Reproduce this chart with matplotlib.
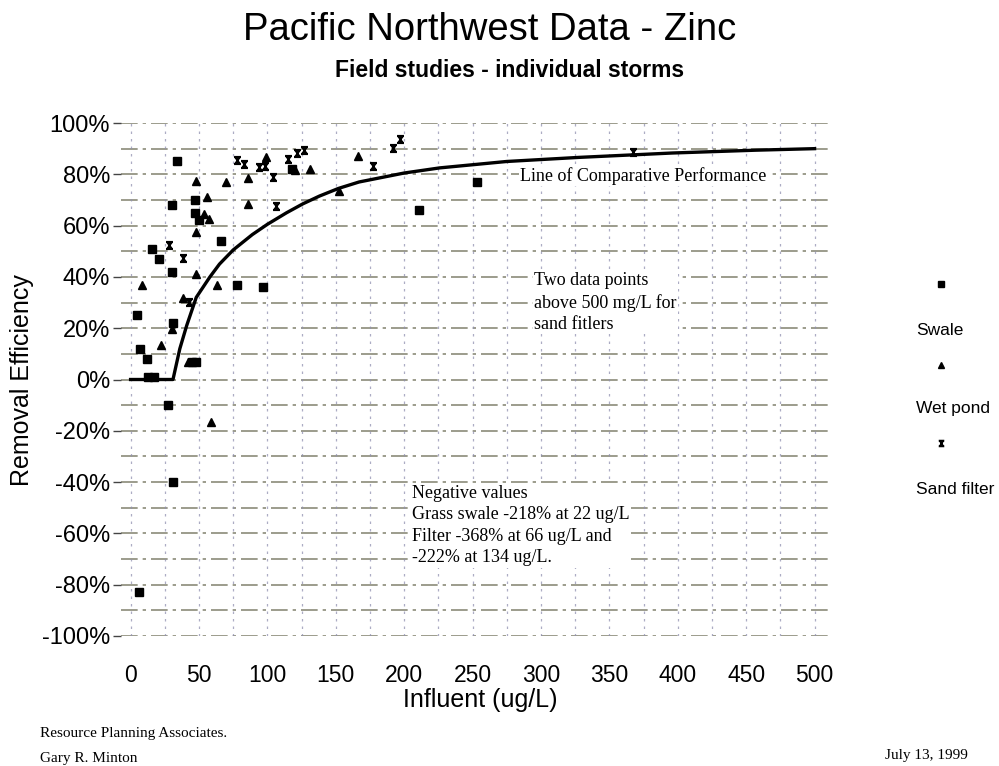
"""
    Pacific Northwest Data - Zinc
"""
import matplotlib
matplotlib.use('Agg')
import matplotlib.pyplot as plt
from matplotlib.path import Path
from matplotlib.lines import Line2D

# Swale (cuadrados)
swale_x = [34, 30, 47, 47, 50, 66, 16, 21, 30, 78, 97, 118, 5, 31, 7, 12, 13, 17, 45, 48, 27, 31, 6, 211, 253]
swale_y = [85, 68, 70, 65, 62, 54, 51, 47, 42, 37, 36, 82, 25, 22, 12, 8, 1, 1, 7, 7, -10, -40, -83, 66, 77]

# Wet pond (triangulos)
pond_x = [48, 56, 54, 57, 48, 48, 63, 8, 38, 70, 86, 86, 99, 131, 166, 152, 120, 30, 22, 42, 59]
pond_y = [77.5, 71, 64.5, 62.5, 57.6, 41, 36.8, 37, 31.7, 77, 78.7, 68.4, 86.6, 82, 87.3, 73.5, 81.5, 19.6, 13.5, 7, -16.7]

# Sand filter
sand_x = [78, 83, 94, 98, 104, 106, 115, 122, 127, 28, 38, 43, 177, 192, 197, 367]
sand_y = [85.6, 84, 82.7, 83.2, 79, 67.8, 86, 88.4, 89.5, 52.4, 47.2, 30.3, 83.2, 90.4, 93.6, 88.8]

# Line of Comparative Performance
line_x = [0, 31, 36, 41, 48, 58, 65, 75, 89, 100, 114, 126, 138, 152, 167, 200, 226, 275, 328, 396, 457, 500]
line_y = [0, 0, 12, 21, 32, 40, 45, 50.5, 56.5, 60.5, 65, 68.5, 71.5, 74.5, 77, 80.5, 82.5, 85, 86.6, 88.3, 89.4, 90]

y_ticks = [-100, -80, -60, -40, -20, 0, 20, 40, 60, 80, 100]
x_ticks = [0, 50, 100, 150, 200, 250, 300, 350, 400, 450, 500]

# marcador tipo reloj de arena para sand filter
hourglass = Path([(-1, 1), (1, 1), (-0.6, 1), (0.6, -1), (0.6, 1), (-0.6, -1), (-1, -1), (1, -1)],
                 [Path.MOVETO, Path.LINETO, Path.MOVETO, Path.LINETO,
                  Path.MOVETO, Path.LINETO, Path.MOVETO, Path.LINETO])

sans = ['Liberation Sans', 'DejaVu Sans']
serif = ['Liberation Serif', 'DejaVu Serif']
W, H = 999, 766

fig = plt.figure(figsize=(9.99, 7.66), dpi=100)
ax = fig.add_axes([121 / W, 1 - 636 / H, (831 - 121) / W, (636 - 123) / H])
ax.set_xlim(-7, 512)
ax.set_ylim(-100, 100)

# cuadricula (aspecto de fotocopia)
for v in range(-100, 101, 10):
    ax.axhline(v, color='#6e6e58', lw=1.2, ls=(0, (10, 3, 2, 3)), alpha=0.8, zorder=1)
for v in range(0, 501, 25):
    ax.axvline(v, color='#9090b0', lw=0.9, ls=(0, (2, 4)), alpha=0.75, zorder=1)

ax.plot(line_x, line_y, color='black', lw=2.4, zorder=3, solid_joinstyle='round')
ax.plot(swale_x, swale_y, ls='none', marker='s', ms=6, color='black', zorder=4, clip_on=False)
ax.plot(pond_x, pond_y, ls='none', marker='^', ms=6, color='black', zorder=4, clip_on=False)
ax.plot(sand_x, sand_y, ls='none', marker=hourglass, ms=5, mfc='none', mec='black', mew=1.6,
        zorder=4, clip_on=False)

for s in ax.spines.values():
    s.set_visible(False)
ax.set_yticks(y_ticks)
ax.set_yticklabels([f'{v}%' for v in y_ticks], family=sans, fontsize=17)
ax.set_xticks(x_ticks)
ax.set_xticklabels([str(v) for v in x_ticks], family=sans, fontsize=16.5)
ax.tick_params(axis='y', length=6, width=1, color='#444444', pad=2)
ax.tick_params(axis='x', length=0, pad=20)

# textos dentro del grafico
ax.text(285, 77.5, 'Line of Comparative Performance', family=serif, fontsize=13,
        va='baseline', ha='left', zorder=5,
        bbox=dict(facecolor='white', edgecolor='none', pad=1))
ax.text(295, 42, 'Two data points\nabove 500 mg/L for\nsand fitlers', family=serif, fontsize=13,
        va='top', ha='left', linespacing=1.35, zorder=5,
        bbox=dict(facecolor='white', edgecolor='none', pad=1))
ax.text(206, -41, 'Negative values\nGrass swale -218% at 22 ug/L\nFilter -368% at 66 ug/L and\n-222% at 134 ug/L.',
        family=serif, fontsize=13, va='top', ha='left', linespacing=1.35, zorder=5,
        bbox=dict(facecolor='white', edgecolor='none', pad=1))

# titulos
fig.text(490 / W, 1 - 40 / H, 'Pacific Northwest Data - Zinc', family=sans, fontsize=27.5,
         ha='center', va='baseline')
fig.text(510 / W, 1 - 77 / H, 'Field studies - individual storms', family=sans, fontsize=16.5,
         fontweight='bold', ha='center', va='baseline')
fig.text(480 / W, 1 - 700 / H, 'Influent (ug/L)', family=sans, fontsize=18, ha='center', va='center')
fig.text(22 / W, 1 - 380 / H, 'Removal Efficiency', family=sans, fontsize=18, rotation=90,
         ha='center', va='center')

# leyenda a la derecha
fig.add_artist(Line2D([941 / W], [1 - 284 / H], marker='s', ms=4.5, color='black', ls='none'))
fig.add_artist(Line2D([941 / W], [1 - 365 / H], marker='^', ms=5, color='black', ls='none'))
fig.add_artist(Line2D([941 / W], [1 - 443 / H], marker=hourglass, ms=4, mfc='none', mec='black',
                      mew=1.4, ls='none'))
fig.text(916 / W, 1 - 330 / H, 'Swale', family=sans, fontsize=12.5, ha='left', va='center')
fig.text(916 / W, 1 - 409 / H, 'Wet pond', family=sans, fontsize=12.5, ha='left', va='center')
fig.text(916 / W, 1 - 489 / H, 'Sand filter', family=sans, fontsize=12.5, ha='left', va='center')

# pie de pagina
fig.text(40 / W, 1 - 737 / H, 'Resource Planning Associates.', family=serif, fontsize=11,
         ha='left', va='baseline')
fig.text(40 / W, 1 - 762 / H, 'Gary R. Minton', family=serif, fontsize=11, ha='left', va='baseline')
fig.text(968 / W, 1 - 759 / H, 'July 13, 1999', family=serif, fontsize=11, ha='right', va='baseline')

fig.savefig('out.png', dpi=100, facecolor='white')
